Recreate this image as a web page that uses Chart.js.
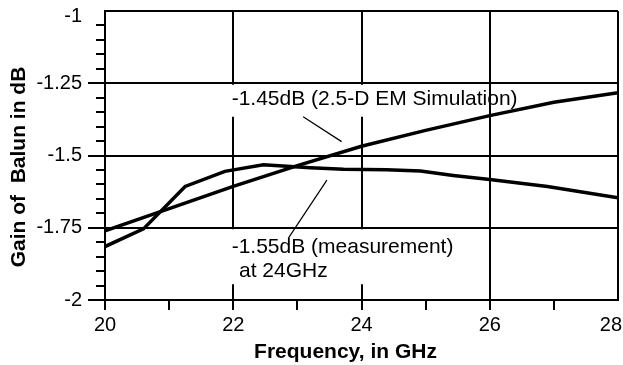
<!DOCTYPE html>
<html>
<head>
<meta charset="utf-8">
<script src="https://cdn.jsdelivr.net/npm/chart.js@4.4.1/dist/chart.umd.min.js"></script>
<style>
  html, body { margin: 0; padding: 0; background: #fff; }
  canvas { display: block; }
</style>
</head>
<body>
<canvas id="myChart" width="623" height="365"></canvas>
<script>
// Donnees
const simFreq = [20, 21, 22, 23, 24, 25, 26, 27, 28];
const simGain = [-1.761, -1.684, -1.607, -1.535, -1.468, -1.413, -1.362, -1.316, -1.283];

const measFreq = [20, 20.6, 21.25, 21.87, 22.47, 23.2, 23.72, 24.39, 24.92, 25.43, 26.0, 26.9, 28];
const measGain = [-1.815, -1.754, -1.607, -1.555, -1.532, -1.542, -1.548, -1.549, -1.554, -1.569, -1.583, -1.607, -1.646];

const xLabels = [20, 22, 24, 26, 28];
const yLabels = [-2, -1.75, -1.5, -1.25, -1];

const xTitle = 'Frequency, in GHz';
const yTitle = 'Gain of  Balun in dB';
const noteSim = '-1.45dB (2.5-D EM Simulation)';
const noteMeas = ['-1.55dB (measurement)', 'at 24GHz'];

const FONT = "'Liberation Sans', Arial, Helvetica, sans-serif";

function isMajorY(v) {
    return Math.abs(v * 4 - Math.round(v * 4)) < 1e-6;
}
function findLabel(list, v) {
    const hit = list.find(l => Math.abs(l - v) < 1e-6);
    return hit === undefined ? '' : String(hit);
}

// Notes, traits de rappel, titres des axes
const notesPlugin = {
    id: 'notes',
    beforeDatasetsDraw(chart) {
        const { ctx, scales: { x, y } } = chart;
        ctx.save();
        ctx.fillStyle = '#fff';
        // fonds blancs qui coupent la grille sous les notes
        let top = y.getPixelForValue(-1.25) + 1.5;
        ctx.fillRect(x.getPixelForValue(21.92), top, x.getPixelForValue(25.85) - x.getPixelForValue(21.92), 32);
        top = y.getPixelForValue(-1.75) + 1.5;
        ctx.fillRect(x.getPixelForValue(21.92), top, x.getPixelForValue(25.6) - x.getPixelForValue(21.92), 55);
        ctx.restore();
    },
    afterDatasetsDraw(chart) {
        const { ctx, scales: { x, y } } = chart;
        ctx.save();
        ctx.fillStyle = '#000';
        ctx.font = '21px ' + FONT;
        ctx.textAlign = 'left';
        ctx.textBaseline = 'alphabetic';
        ctx.fillText(noteSim, x.getPixelForValue(21.975), y.getPixelForValue(-1.325));
        ctx.fillText(noteMeas[0], x.getPixelForValue(21.975), y.getPixelForValue(-1.838));
        ctx.fillText(noteMeas[1], x.getPixelForValue(22.09), y.getPixelForValue(-1.919));

        ctx.strokeStyle = '#000';
        ctx.lineWidth = 1.2;
        ctx.beginPath();
        ctx.moveTo(x.getPixelForValue(23.09), y.getPixelForValue(-1.366));
        ctx.lineTo(x.getPixelForValue(23.69), y.getPixelForValue(-1.452));
        ctx.moveTo(x.getPixelForValue(22.86), y.getPixelForValue(-1.786));
        ctx.lineTo(x.getPixelForValue(23.46), y.getPixelForValue(-1.585));
        ctx.stroke();

        // petites graduations de l'axe y
        ctx.lineWidth = 2;
        ctx.beginPath();
        y.ticks.forEach(t => {
            if (isMajorY(t.value)) return;
            const py = Math.round(y.getPixelForValue(t.value));
            ctx.moveTo(y.right - 9, py);
            ctx.lineTo(y.right, py);
        });
        ctx.stroke();
        ctx.restore();
    },
    afterDraw(chart) {
        const { ctx } = chart;
        ctx.save();
        ctx.fillStyle = '#000';
        ctx.font = 'bold 21px ' + FONT;
        ctx.textAlign = 'center';
        ctx.textBaseline = 'alphabetic';
        ctx.fillText(xTitle, 345.5, 358);
        ctx.translate(25, 167);
        ctx.rotate(-Math.PI / 2);
        ctx.fillText(yTitle, 0, 0);
        ctx.restore();
    }
};

// "28" garde dans l'image et "-1" un peu plus bas, comme sur la figure
const edgeLabelPlugin = {
    id: 'edgeLabels',
    beforeDraw(chart) {
        try {
            const xItems = chart.scales.x.getLabelItems(chart.chartArea);
            const last = xItems[xItems.length - 1];
            if (last && last.label === '28') {
                last.options.textAlign = 'right';
                last.options.translation[0] = chart.width - 1;
            }
            const yItems = chart.scales.y.getLabelItems(chart.chartArea);
            yItems.forEach(it => {
                if (it.label === '-1' && !it._moved) {
                    it.options.translation[1] += 5;
                    it._moved = true;
                }
            });
        } catch (e) {
            console.error(e);
        }
    }
};

const ctx = document.getElementById('myChart').getContext('2d');
const myChart = new Chart(ctx, {
    type: 'line',
    data: {
        datasets: [
            {
                label: 'Simulation',
                data: simFreq.map((f, i) => ({ x: f, y: simGain[i] })),
                borderColor: '#000',
                borderWidth: 3.5,
                pointRadius: 0,
                tension: 0,
                fill: false
            },
            {
                label: 'Measurement',
                data: measFreq.map((f, i) => ({ x: f, y: measGain[i] })),
                borderColor: '#000',
                borderWidth: 3.5,
                pointRadius: 0,
                tension: 0,
                fill: false
            }
        ]
    },
    options: {
        responsive: false,
        animation: false,
        devicePixelRatio: 1,
        layout: { padding: { top: 11, right: 5, bottom: 0, left: 0 } },
        plugins: {
            legend: { display: false },
            tooltip: { enabled: false }
        },
        scales: {
            x: {
                type: 'linear',
                min: 20,
                max: 28,
                afterBuildTicks: scale => {
                    const t = [];
                    for (let v = 20; v <= 28; v++) t.push({ value: v });
                    scale.ticks = t;
                },
                afterFit: scale => {
                    scale.height = 65;
                    scale.paddingLeft = 0;
                    scale.paddingRight = 0;
                },
                ticks: {
                    autoSkip: false,
                    maxRotation: 0,
                    padding: 3,
                    color: '#000',
                    font: { family: FONT, size: 20 },
                    callback: v => findLabel(xLabels, v)
                },
                grid: {
                    color: c => (c.tick && Math.round(c.tick.value) % 2 === 0) ? '#000' : 'rgba(0,0,0,0)',
                    lineWidth: 2,
                    drawTicks: true,
                    tickLength: 10,
                    tickWidth: 2,
                    tickColor: c => (c.tick && c.tick.value === 28) ? 'rgba(0,0,0,0)' : '#000'
                },
                border: { display: true, color: '#000', width: 2 }
            },
            y: {
                type: 'linear',
                min: -2,
                max: -1,
                afterBuildTicks: scale => {
                    const t = [];
                    for (let i = 0; i <= 20; i++) t.push({ value: -2 + i * 0.05 });
                    scale.ticks = t;
                },
                afterFit: scale => {
                    scale.width = 105;
                    scale.paddingTop = 0;
                    scale.paddingBottom = 0;
                },
                ticks: {
                    autoSkip: false,
                    padding: 6,
                    color: '#000',
                    font: { family: FONT, size: 20 },
                    callback: v => findLabel(yLabels, v)
                },
                grid: {
                    color: c => (c.tick && isMajorY(c.tick.value)) ? '#000' : 'rgba(0,0,0,0)',
                    lineWidth: 2,
                    drawTicks: true,
                    tickLength: 17,
                    tickWidth: 2,
                    tickColor: c => (c.tick && isMajorY(c.tick.value) && c.tick.value < -1.01) ? '#000' : 'rgba(0,0,0,0)'
                },
                border: { display: true, color: '#000', width: 2 }
            }
        }
    },
    plugins: [notesPlugin, edgeLabelPlugin]
});
</script>
</body>
</html>
